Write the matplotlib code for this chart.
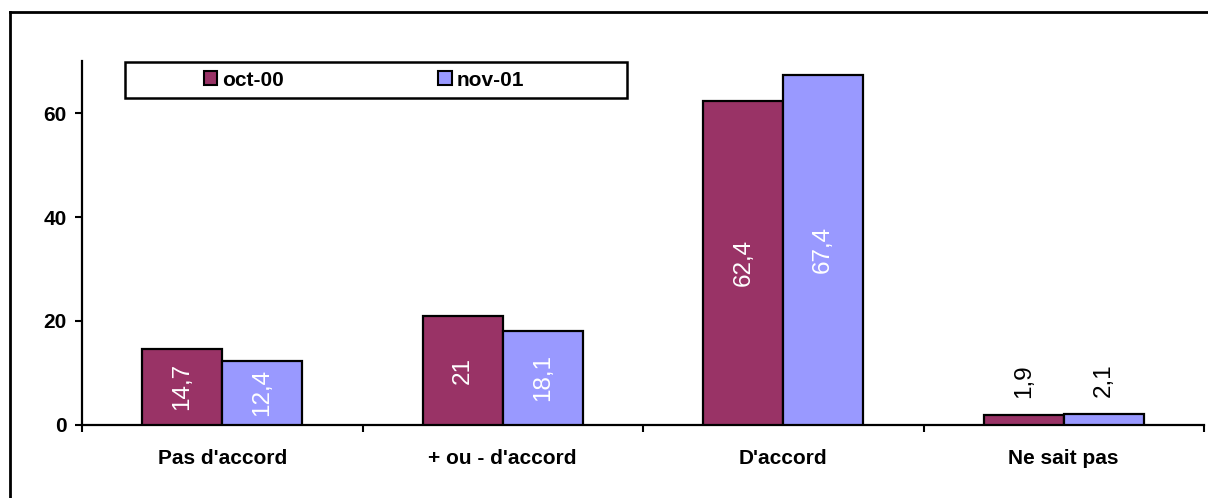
import matplotlib
matplotlib.use("Agg")
import matplotlib.pyplot as plt
from matplotlib.patches import Rectangle, Patch
from matplotlib.lines import Line2D
import numpy as np

categories = ["Pas d'accord", "+ ou - d'accord", "D'accord", "Ne sait pas"]
series_names = ["oct-00", "nov-01"]
oct00 = [14.7, 21.0, 62.4, 1.9]
nov01 = [12.4, 18.1, 67.4, 2.1]
oct00_labels = ["14,7", "21", "62,4", "1,9"]
nov01_labels = ["12,4", "18,1", "67,4", "2,1"]
yticks = [0, 20, 40, 60]

colors = ["#993366", "#9999FF"]
FONT = "Liberation Sans"
plt.rcParams["font.family"] = [FONT, "DejaVu Sans"]

W, H = 1208, 498
fig = plt.figure(figsize=(W / 100, H / 100), dpi=100)
ax = fig.add_axes([82 / W, 1 - 425 / H, (1204 - 82) / W, (425 - 61) / H])

x = np.arange(len(categories))
bw = 0.285
for i, (vals, labs) in enumerate([(oct00, oct00_labels), (nov01, nov01_labels)]):
    xs = x + (i - 0.5) * bw
    ax.bar(xs, vals, width=bw, color=colors[i], edgecolor="black", linewidth=1.6,
           label=series_names[i], zorder=3)
    for xi, v, lab in zip(xs, vals, labs):
        if v > 8:
            ax.text(xi, v / 2, lab, rotation=90, ha="center", va="center",
                    color="white", fontsize=17.5, fontfamily=FONT)
        else:
            ax.text(xi, v + 3.2, lab, rotation=90, ha="center", va="bottom",
                    color="black", fontsize=17.5, fontfamily=FONT)

ax.set_xlim(-0.5, len(categories) - 0.5)
ax.set_ylim(0, 70)
ax.set_yticks(yticks)
ax.set_yticklabels([str(t) for t in yticks], fontsize=15, fontweight="bold")
ax.set_xticks(x)
ax.set_xticklabels(categories, fontsize=15, fontweight="bold")
ax.set_xticks(np.arange(-0.5, len(categories)), minor=True)
ax.tick_params(axis="x", which="major", length=0, pad=17)
ax.tick_params(axis="x", which="minor", length=5, width=1.5, direction="out")
ax.tick_params(axis="y", which="major", length=5, width=1.5, pad=6)
for s in ["top", "right"]:
    ax.spines[s].set_visible(False)
for s in ["left", "bottom"]:
    ax.spines[s].set_linewidth(1.6)

# legend box
fig.patches.append(Rectangle((125 / W, 1 - 98 / H), (627 - 125) / W, 36 / H,
                             transform=fig.transFigure, fill=False,
                             edgecolor="black", linewidth=1.8))
handles = [Patch(facecolor=c, edgecolor="black", linewidth=1.5) for c in colors]
leg = fig.legend(handles, series_names, loc="center",
                 bbox_to_anchor=(364 / W, 1 - 80 / H), ncol=2, frameon=False,
                 prop={"family": FONT, "weight": "bold", "size": 15},
                 handlelength=0.65, handleheight=0.65, handletextpad=0.25,
                 columnspacing=7.4)

# outer frame
fig.lines.append(Line2D([9.5 / W, 9.5 / W], [1 - 12.5 / H, -0.1],
                        transform=fig.transFigure, color="black", linewidth=2))
fig.lines.append(Line2D([9.5 / W, 1.1], [1 - 12.5 / H, 1 - 12.5 / H],
                        transform=fig.transFigure, color="black", linewidth=2))

fig.savefig("out.png", dpi=100)
